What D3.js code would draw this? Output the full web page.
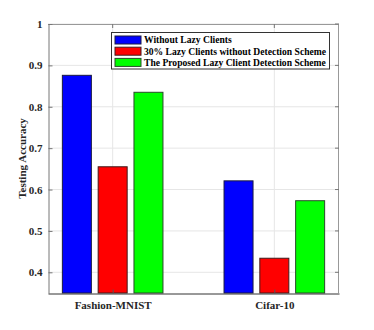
<!DOCTYPE html>
<html><head><meta charset="utf-8">
<script src="https://cdn.jsdelivr.net/npm/d3@7"></script>
<style>body{margin:0;background:#fff}svg{display:block}
svg text{font-family:"Liberation Serif","Times New Roman",Times,"DejaVu Serif",serif !important;font-weight:bold}</style>
</head><body>
<svg id="c" width="374" height="330"></svg>
<script>
const categories = ["Fashion-MNIST", "Cifar-10"];
const seriesNames = ["Without Lazy Clients", "30% Lazy Clients without Detection Scheme", "The Proposed Lazy Client Detection Scheme"];
const seriesColors = ["#0000ff", "#ff0000", "#00ff00"];
const edgeColors = ["#1a1a40", "#401a1a", "#2a4a2a"];
const withoutLazy = [0.876, 0.621];
const lazyNoDetection = [0.655, 0.434];
const proposedScheme = [0.835, 0.573];
const yTicks = [0.4, 0.5, 0.6, 0.7, 0.8, 0.9, 1];
const yTickLabels = ["0.4", "0.5", "0.6", "0.7", "0.8", "0.9", "1"];
const series = [withoutLazy, lazyNoDetection, proposedScheme];

const svg = d3.select("#c");
const L = 48, R = 339, T = 24, B = 293;

const x = d3.scaleLinear().domain([0.6, 2.4]).range([L, R]);
const y = d3.scaleLinear().domain([0.35, 1]).range([B, T]);
const step = 35.8, bw = 29;

// grid
const g = svg.append("g");
yTicks.forEach(t => g.append("line").attr("x1", L).attr("x2", R).attr("y1", y(t)).attr("y2", y(t)).attr("stroke", "#e6e6e6").attr("stroke-width", 1));
categories.forEach((c, i) => g.append("line").attr("x1", x(i + 1)).attr("x2", x(i + 1)).attr("y1", T).attr("y2", B).attr("stroke", "#e6e6e6").attr("stroke-width", 1));

// bars
series.forEach((s, si) => {
  svg.append("g").selectAll("rect").data(s).join("rect")
    .attr("x", (d, i) => x(i + 1) + (si - 1) * step - bw / 2)
    .attr("y", d => y(d))
    .attr("width", bw)
    .attr("height", d => B - y(d))
    .attr("fill", seriesColors[si])
    .attr("stroke", edgeColors[si])
    .attr("stroke-width", 1);
});

// box
svg.append("line").attr("x1", L).attr("x2", R).attr("y1", T + 0.5).attr("y2", T + 0.5).attr("stroke", "#999").attr("stroke-width", 1);
svg.append("line").attr("x1", R - 0.5).attr("x2", R - 0.5).attr("y1", T).attr("y2", B).attr("stroke", "#999").attr("stroke-width", 1);

// axes
const yAxis = d3.axisLeft(y).tickValues(yTicks).tickFormat((d, i) => yTickLabels[i]).tickSizeInner(-4).tickSizeOuter(0).tickPadding(6);
const ya = svg.append("g").attr("transform", `translate(${L + 0.5},0)`).call(yAxis);
ya.select(".domain").attr("stroke", "#777");
ya.selectAll(".tick line").attr("stroke", "#777");
ya.selectAll("text").attr("font-size", 11).attr("fill", "#262626");

// right ticks
yTicks.forEach(t => svg.append("line").attr("x1", R - 4).attr("x2", R).attr("y1", y(t)).attr("y2", y(t)).attr("stroke", "#777"));
categories.forEach((c, i) => svg.append("line").attr("x1", x(i + 1)).attr("x2", x(i + 1)).attr("y1", T).attr("y2", T + 4).attr("stroke", "#777"));

const xAxis = d3.axisBottom(x).tickValues([1, 2]).tickFormat((d, i) => categories[i]).tickSizeInner(-4).tickSizeOuter(0).tickPadding(8);
const xa = svg.append("g").attr("transform", `translate(0,${B + 0.5})`).call(xAxis);
xa.select(".domain").attr("stroke", "#333");
xa.selectAll(".tick line").attr("stroke", "#555");
xa.selectAll("text").attr("font-size", 11).attr("fill", "#262626");

// y label
svg.append("text").attr("transform", `translate(26,${(T + B) / 2}) rotate(-90)`)
  .attr("text-anchor", "middle").attr("font-size", 11).attr("fill", "#262626")
  .text("Testing Accuracy");

// legend
const lg = svg.append("g");
lg.append("rect").attr("x", 111.5).attr("y", 32.5).attr("width", 218).attr("height", 36.5).attr("fill", "#fff").attr("stroke", "#333").attr("stroke-width", 1);
seriesNames.forEach((n, i) => {
  const cy = 40 + i * 11.2;
  lg.append("rect").attr("x", 115).attr("y", cy - 4).attr("width", 26).attr("height", 8).attr("fill", seriesColors[i]).attr("stroke", edgeColors[i]).attr("stroke-width", 1);
  lg.append("text").attr("x", 144).attr("y", cy).attr("dy", "0.35em").attr("font-size", 9.6).attr("fill", "#000").text(n);
});
</script>
</body></html>
